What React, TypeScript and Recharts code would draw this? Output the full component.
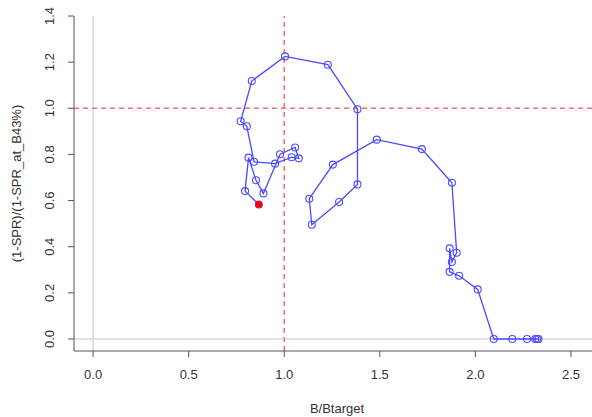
import { ScatterChart, Scatter, XAxis, YAxis, ReferenceLine } from "recharts";

// B/Btarget and (1-SPR)/(1-SPR_at_B43%) by year, oldest first; last one is the current year
const bRatio = [
  2.33, 2.322, 2.313, 2.27, 2.193, 2.096, 2.012, 1.915, 1.865, 1.865, 1.877, 1.902, 1.877,
  1.72, 1.484, 1.254, 1.131, 1.144, 1.287, 1.383, 1.383, 1.228, 1.004, 0.83, 0.772, 0.804,
  0.842, 0.952, 1.039, 1.076, 1.057, 0.978, 0.891, 0.852, 0.813, 0.795, 0.867,
];
const sprRatio = [
  0, 0, 0, 0, 0, 0, 0.215, 0.274, 0.291, 0.393, 0.334, 0.374, 0.677,
  0.823, 0.864, 0.756, 0.608, 0.495, 0.594, 0.67, 0.996, 1.189, 1.225, 1.118, 0.944, 0.922,
  0.768, 0.76, 0.788, 0.783, 0.83, 0.801, 0.631, 0.688, 0.786, 0.641, 0.583,
];

const xTicks = [0, 0.5, 1, 1.5, 2, 2.5];
const yTicks = [0, 0.2, 0.4, 0.6, 0.8, 1.0, 1.2, 1.4];

const font = "'Liberation Sans', Arial, sans-serif";
const axisColor = "#555";
const textColor = "#333";

const points = bRatio.map((b, i) => ({ b, spr: sprRatio[i] }));
const current = points.slice(-1);

const XTick = ({ x, y, payload }: any) => (
  <text x={x} y={y + 20} textAnchor="middle" fontSize={13} fontFamily={font} fill={textColor}>
    {Number(payload.value).toFixed(1)}
  </text>
);

const YTick = ({ y, payload }: any) => (
  <text
    transform={`translate(49, ${y}) rotate(-90)`}
    textAnchor="middle"
    dy="0.35em"
    fontSize={13}
    fontFamily={font}
    fill={textColor}
  >
    {Number(payload.value).toFixed(1)}
  </text>
);

const OpenDot = ({ cx, cy }: any) => (
  <circle cx={cx} cy={cy} r={3.5} fill="none" stroke="#4a4aff" strokeWidth={1.1} />
);

const RedDot = ({ cx, cy }: any) => <circle cx={cx} cy={cy} r={3.5} fill="#ff0000" />;

export default function App() {
  return (
    <div style={{ position: "absolute", left: 0, top: 0, background: "#fff" }}>
      <ScatterChart width={592} height={417} margin={{ top: 16, right: 0, bottom: 0, left: 0 }}>
        <XAxis
          type="number"
          dataKey="b"
          domain={[-0.1, 2.61]}
          ticks={xTicks}
          allowDataOverflow
          height={66}
          tickSize={6}
          stroke={axisColor}
          tick={<XTick />}
          label={{
            value: "B/Btarget",
            position: "insideBottom",
            offset: 4,
            dx: 4,
            fontSize: 13,
            fontFamily: font,
            fill: textColor,
          }}
        />
        <YAxis
          type="number"
          dataKey="spr"
          domain={[-0.052, 1.4]}
          ticks={yTicks}
          allowDataOverflow
          width={74}
          tickSize={6}
          stroke={axisColor}
          tick={<YTick />}
          label={{
            value: "(1-SPR)/(1-SPR_at_B43%)",
            angle: -90,
            position: "insideLeft",
            offset: 16,
            fontSize: 13,
            fontFamily: font,
            fill: textColor,
            style: { textAnchor: "middle" },
          }}
        />
        <ReferenceLine x={0} stroke="#d9d9d9" strokeWidth={1.5} />
        <ReferenceLine y={0} stroke="#d9d9d9" strokeWidth={1.5} />
        <ReferenceLine x={1} stroke="#ff6a6a" strokeWidth={1.5} strokeDasharray="5 4" />
        <ReferenceLine y={1} stroke="#ff6a6a" strokeWidth={1.5} strokeDasharray="5 4" />
        <Scatter
          data={points}
          line={{ stroke: "#4a4aff", strokeWidth: 1.3 }}
          shape={<OpenDot />}
          isAnimationActive={false}
        />
        <Scatter data={current} shape={<RedDot />} isAnimationActive={false} />
      </ScatterChart>
    </div>
  );
}
